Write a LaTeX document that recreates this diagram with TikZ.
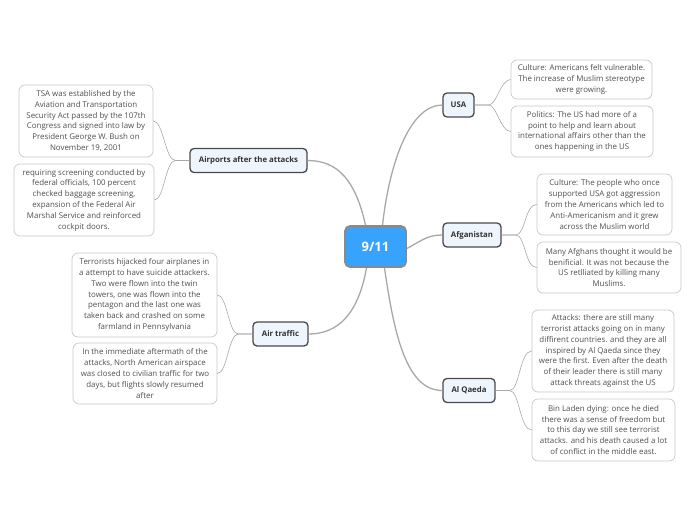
\documentclass[tikz,border=0pt]{standalone}
\usepackage{fontspec}
\setmainfont{Open Sans}
\begin{document}
\begin{tikzpicture}[x=1pt,y=-1pt,
  leaf/.style={draw=leafborder, line width=0.7pt, rounded corners=6pt, fill=white, text=leaftext,
     align=center, font=\fontsize{7.9}{10.8}\selectfont, inner sep=0pt},
  topic/.style={draw=topicborder, line width=1.3pt, rounded corners=4pt, fill=topicfill, text=topictext,
     font=\fontsize{7.8}{9}\selectfont\bfseries, minimum height=24pt, inner sep=0pt},
  hub/.style={draw=hubborder, line width=1.8pt, rounded corners=5pt, fill=hubfill, text=white,
     font=\fontsize{13}{15}\selectfont\bfseries, minimum width=61pt, minimum height=41pt, inner sep=0pt},
  main/.style={draw=linecol, line width=1.3pt},
  sub/.style={draw=linecol, line width=0.6pt}]
\definecolor{leafborder}{HTML}{C8C8C8}
\definecolor{leaftext}{HTML}{505050}
\definecolor{topicborder}{HTML}{4A4A4A}
\definecolor{topicfill}{HTML}{EEF5FD}
\definecolor{topictext}{HTML}{333333}
\definecolor{hubborder}{HTML}{8A8A8A}
\definecolor{hubfill}{HTML}{38A3FF}
\definecolor{linecol}{HTML}{A8A8A8}
\useasboundingbox (0,0) rectangle (696,520);

\node[hub] (c) at (375.5,246.5) {9/11};

\node[topic, minimum width=31pt] (usa) at (458.5,105) {USA};
\node[topic, minimum width=58pt] (afg) at (472,235) {Afganistan};
\node[topic, minimum width=52pt] (alq) at (469,390.5) {Al Qaeda};
\node[topic, minimum width=117pt] (air) at (248.5,160.5) {Airports after the attacks};
\node[topic, minimum width=55pt] (trf) at (280.5,334) {Air traffic};

\node[leaf, minimum width=134pt, minimum height=72pt] (tsa) at (86,121) {TSA was established by the\\Aviation and Transportation\\Security Act passed by the 107th\\Congress and signed into law by\\President George W. Bush on\\November 19, 2001};
\node[leaf, minimum width=140pt, minimum height=72pt] (req) at (84,200) {requiring screening conducted by\\federal officials, 100 percent\\checked baggage screening,\\expansion of the Federal Air\\Marshal Service and reinforced\\cockpit doors.};
\node[leaf, minimum width=145pt, minimum height=84pt] (ter) at (144.5,295) {Terrorists hijacked four airplanes in\\a attempt to have suicide attackers.\\Two were flown into the twin\\towers, one was flown into the\\pentagon and the last one was\\taken back and crashed on some\\farmland in Pennsylvania};
\node[leaf, minimum width=144pt, minimum height=61pt] (imm) at (145,373.5) {In the immediate aftermath of the\\attacks, North American airspace\\was closed to civilian traffic for two\\days, but flights slowly resumed\\after};
\node[leaf, minimum width=141pt, minimum height=39pt] (cua) at (581.5,79.5) {Culture: Americans felt vulnerable.\\The increase of Muslim stereotype\\were growing.};
\node[leaf, minimum width=142pt, minimum height=51pt] (pol) at (582,131.5) {Politics: The US had more of a\\point to help and learn about\\international affairs other than the\\ones happening in the US};
\node[leaf, minimum width=135pt, minimum height=61pt] (cuf) at (604.5,204.5) {Culture: The people who once\\supported USA got aggression\\from the Americans which led to\\Anti-Americanism and it grew\\across the Muslim world};
\node[leaf, minimum width=144pt, minimum height=51pt] (maf) at (609,267.5) {Many Afghans thought it would be\\benificial. It was not because the\\US retlliated by killing many\\Muslims.};
\node[leaf, minimum width=142pt, minimum height=82pt] (atk) at (603,351) {Attacks: there are still many\\terrorist attacks going on in many\\diffirent countries. and they are all\\inspired by Al Qaeda since they\\were the first. Even after the death\\of their leader there is still many\\attack threats against the US};
\node[leaf, minimum width=143pt, minimum height=62pt] (bin) at (603.5,430) {Bin Laden dying: once he died\\there was a sense of freedom but\\to this day we still see terrorist\\attacks. and his death caused a lot\\of conflict in the middle east.};

% main connectors
\draw[main] ([xshift=7pt]c.north) .. controls +(8,-70) and +(-30,0) .. (usa.west);
\draw[main] ([xshift=-10pt]c.north) .. controls +(-10,-45) and +(30,0) .. (air.east);
\draw[main] ([yshift=-2pt]c.east) .. controls +(15,-8) and +(-15,0) .. (afg.west);
\draw[main] ([xshift=-9pt]c.south) .. controls +(-8,45) and +(30,0) .. (trf.east);
\draw[main] ([xshift=9pt]c.south) .. controls +(10,70) and +(-35,0) .. (alq.west);

% sub connectors
\draw[sub] (usa.east) -- ++(14,0) .. controls +(8,0) and +(-10,0) .. (cua.west);
\draw[sub] (usa.east) -- ++(14,0) .. controls +(8,0) and +(-10,0) .. (pol.west);
\draw[sub] (afg.east) -- ++(14,0) .. controls +(10,0) and +(-12,0) .. (cuf.west);
\draw[sub] (afg.east) -- ++(14,0) .. controls +(10,0) and +(-12,0) .. (maf.west);
\draw[sub] (alq.east) -- ++(14,0) .. controls +(10,0) and +(-12,0) .. (atk.west);
\draw[sub] (alq.east) -- ++(14,0) .. controls +(10,0) and +(-12,0) .. (bin.west);
\draw[sub] (air.west) -- ++(-14,0) .. controls +(-10,0) and +(10,0) .. (tsa.east);
\draw[sub] (air.west) -- ++(-14,0) .. controls +(-10,0) and +(10,0) .. (req.east);
\draw[sub] (trf.west) -- ++(-14,0) .. controls +(-10,0) and +(10,0) .. (ter.east);
\draw[sub] (trf.west) -- ++(-14,0) .. controls +(-10,0) and +(10,0) .. (imm.east);
\end{tikzpicture}
\end{document}
